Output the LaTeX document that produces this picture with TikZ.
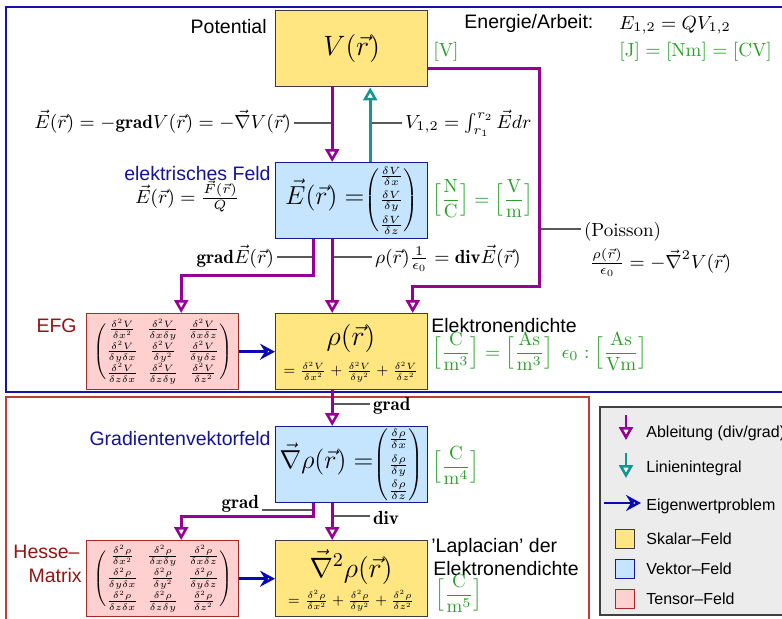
\documentclass[tikz,border=0pt]{standalone}
\usepackage{fix-cm}
\usepackage{amsmath}
\usepackage{fontspec}
\newfontfamily\hv{Liberation Sans}
\usetikzlibrary{arrows.meta}
\definecolor{cyel}{RGB}{255,230,128}
\definecolor{cyelb}{RGB}{60,60,60}
\definecolor{cblu}{RGB}{197,229,255}
\definecolor{cblub}{RGB}{25,25,150}
\definecolor{cpnk}{RGB}{255,208,208}
\definecolor{cpnkb}{RGB}{170,40,40}
\definecolor{cpur}{RGB}{150,0,150}
\definecolor{cteal}{RGB}{20,150,150}
\definecolor{carr}{RGB}{10,10,180}
\definecolor{cgrn}{RGB}{40,160,40}
\definecolor{cdblue}{RGB}{20,20,150}
\definecolor{cdred}{RGB}{150,20,20}
\definecolor{cframeb}{RGB}{20,20,170}
\definecolor{cframer}{RGB}{190,60,60}
\definecolor{clegbg}{RGB}{236,236,236}
\newcommand\myvcol[1]{\begin{pmatrix}\frac{\delta #1}{\delta x}\\[3pt]\frac{\delta #1}{\delta y}\\[3pt]\frac{\delta #1}{\delta z}\end{pmatrix}}
\newcommand\mytens[1]{\setlength\arraycolsep{2.2pt}\delimitershortfall=10pt\delimiterfactor=800
\begin{pmatrix}
\frac{\delta^2#1}{\delta x^2} & \frac{\delta^2#1}{\delta x\delta y} & \frac{\delta^2#1}{\delta x\delta z}\\[2pt]
\frac{\delta^2#1}{\delta y\delta x} & \frac{\delta^2#1}{\delta y^2} & \frac{\delta^2#1}{\delta y\delta z}\\[2pt]
\frac{\delta^2#1}{\delta z\delta x} & \frac{\delta^2#1}{\delta z\delta y} & \frac{\delta^2#1}{\delta z^2}
\end{pmatrix}}
\tikzset{
  boxb/.style={draw, line width=0.7pt, minimum width=76pt, minimum height=38pt, inner sep=0pt, anchor=north west},
  ybox/.style={boxb, fill=cyel, draw=cyelb},
  bbox/.style={boxb, fill=cblu, draw=cblub},
  pbox/.style={boxb, fill=cpnk, draw=cpnkb},
  der/.style={draw=cpur, line width=1.5pt, -{Triangle[length=6.5pt,width=7pt,fill=white,line width=1.3pt]}},
  intg/.style={draw=cteal, line width=1.5pt, -{Triangle[length=6.5pt,width=7pt,fill=white,line width=1.3pt]}},
  eig/.style={draw=carr, line width=1.5pt, -{Stealth[length=7.5pt,width=8pt,inset=2.5pt,fill=white,line width=1.3pt]}},
  lab/.style={draw=black!65, line width=0.6pt},
  sans/.style={font=\fontsize{9.75}{11.5}\selectfont\hv, inner sep=0pt},
  mlab/.style={font=\fontsize{9.5}{11}\selectfont, inner sep=0pt, outer xsep=1.5pt},
  unit/.style={font=\fontsize{9.5}{11}\selectfont, text=cgrn, inner sep=0pt},
  leg/.style={font=\fontsize{8}{9.5}\selectfont\hv, inner sep=0pt, anchor=base west},
  legsq/.style={draw, line width=0.6pt, minimum size=9.5pt, inner sep=0pt, anchor=north west}
}
\begin{document}
\begin{tikzpicture}[x=0.5pt,y=-0.5pt]
\useasboundingbox (0,0) rectangle (782,618);
\clip (0,0) rectangle (782,618);
\fill[white] (0,0) rectangle (782,618);
% frames
\draw[cframeb, line width=0.65pt] (6,7) rectangle (800,392);
\draw[cframer, line width=0.65pt] (6,397) rectangle (589,640);
% boxes
\node[ybox] (V) at (275,10) {\fontsize{14}{16}\selectfont$V(\vec r)$};
\node[bbox] (E) at (275,162) {{\fontsize{13}{15}\selectfont$\vec E(\vec r) =$}{\fontsize{7.5}{9}\selectfont$\myvcol{V}$}};
\node[pbox] (EFG) at (86,313) {\fontsize{6.6}{8}\selectfont$\mytens{V}$};
\node[ybox] (rho) at (275,313) {};
\node[bbox] (G) at (275,426) {{\fontsize{13}{15}\selectfont$\vec\nabla\rho(\vec r) =$}{\fontsize{7.5}{9}\selectfont$\myvcol{\rho}$}};
\node[pbox] (H) at (86,540) {\fontsize{6.6}{8}\selectfont$\mytens{\rho}$};
\node[ybox] (L) at (275,540) {};
\node[inner sep=0pt] (rhoT) at (351,338) {\fontsize{14}{16}\selectfont$\rho(\vec r)$};
\node[inner sep=0pt] (rhoF) at (351,372) {\fontsize{6.5}{8}\selectfont$=\frac{\delta^2V}{\delta x^2}+\frac{\delta^2V}{\delta y^2}+\frac{\delta^2V}{\delta z^2}$};
\node[inner sep=0pt] (LT) at (351,567) {\fontsize{14}{16}\selectfont$\vec\nabla^2\rho(\vec r)$};
\node[inner sep=0pt] (LF) at (351,601) {\fontsize{6.5}{8}\selectfont$=\frac{\delta^2\rho}{\delta x^2}+\frac{\delta^2\rho}{\delta y^2}+\frac{\delta^2\rho}{\delta z^2}$};
% texts
\node[sans, anchor=base east] (tPot) at (267,33) {Potential};
\node[sans, anchor=base west] (tEA) at (464,28) {Energie/Arbeit:};
\node[mlab, anchor=base west] (tE12) at (616,29) {$E_{1,2} = QV_{1,2}$};
\node[unit, anchor=base west] (tJ) at (619,56) {$[\mathrm J] = [\mathrm{Nm}] = [\mathrm{CV}]$};
\node[unit, anchor=base west] (tVu) at (433,56) {$[\mathrm V]$};
\node[mlab, anchor=base east] (lE) at (294,128) {$\vec E(\vec r) = -\mathbf{grad}V(\vec r) = -\vec\nabla V(\vec r)$};
\node[mlab, anchor=base west] (lV) at (402,128) {$V_{1,2} = \int_{r_1}^{r_2}\vec E dr$};
\node[sans, anchor=base east, text=cdblue] (tEF) at (271,180) {elektrisches Feld};
\node[mlab, anchor=base west] (tEF2) at (132,203) {$\vec E(\vec r) = \frac{\vec F(\vec r)}{Q}$};
\node[unit, anchor=base west] (tEu) at (432,205) {$\Big[\dfrac{\mathrm N}{\mathrm C}\Big] = \Big[\dfrac{\mathrm V}{\mathrm m}\Big]$};
\node[mlab, anchor=base east] (lgE) at (277,263) {$\mathbf{grad}\vec E(\vec r)$};
\node[mlab, anchor=base west] (ldiv) at (372,263) {$\rho(\vec r)\frac{1}{\epsilon_0} = \mathbf{div}\vec E(\vec r)$};
\node[mlab, anchor=base west] (lP) at (581,236) {(Poisson)};
\node[mlab, anchor=base west] (lP2) at (587,268) {$\frac{\rho(\vec r)}{\epsilon_0} = -\vec\nabla^2 V(\vec r)$};
\node[sans, anchor=base east, text=cdred] (tEFG) at (77,332) {EFG};
\node[sans, anchor=base west] (tED) at (431,332) {Elektronendichte};
\node[unit, anchor=base west] (tEDu) at (432,358) {$\Big[\dfrac{\mathrm C}{\mathrm m^3}\Big] = \Big[\dfrac{\mathrm{As}}{\mathrm m^3}\Big]\;\, \epsilon_0 : \Big[\dfrac{\mathrm{As}}{\mathrm{Vm}}\Big]$};
\node[mlab, anchor=base west] (lg1) at (370,410) {$\mathbf{grad}$};
\node[sans, anchor=base east, text=cdblue] (tGV) at (271,445) {Gradientenvektorfeld};
\node[unit, anchor=base west] (tGu) at (432,472) {$\Big[\dfrac{\mathrm C}{\mathrm m^4}\Big]$};
\node[mlab, anchor=base east] (lg2) at (262,508) {$\mathbf{grad}$};
\node[mlab, anchor=base west] (ld2) at (370,524) {$\mathbf{div}$};
\node[sans, anchor=base east, text=cdred] (tH1) at (80,558) {Hesse–};
\node[sans, anchor=base east, text=cdred] (tH2) at (82,582) {Matrix};
\node[sans, anchor=base west] (tL1) at (431,552) {’Laplacian’ der};
\node[sans, anchor=base west] (tL2) at (433,575) {Elektronendichte};
\node[unit, anchor=base west] (tLu) at (435,600) {$\Big[\dfrac{\mathrm C}{\mathrm m^5}\Big]$};
% label lines
\coordinate (c1) at (331.5,123);
\coordinate (c2) at (369.5,123);
\coordinate (c3) at (313,257);
\coordinate (c4) at (331.5,257);
\coordinate (c5) at (539,229);
\coordinate (c6) at (331.5,404);
\coordinate (c7) at (313,510);
\coordinate (c8) at (331.5,516);
\draw[lab] (lE.east |- c1) -- (c1);
\draw[lab] (c2) -- (lV.west |- c2);
\draw[lab] (lgE.east |- c3) -- (c3);
\draw[lab] (c4) -- (ldiv.west |- c4);
\draw[lab] (c5) -- (lP.west |- c5);
\draw[lab] (c6) -- (lg1.west |- c6);
\draw[lab] (lg2.east |- c7) -- (c7);
\draw[lab] (c8) -- (ld2.west |- c8);
% connectors
\draw[der] ([xshift=-9.75pt]V.south) -- ([xshift=-9.75pt]E.north);
\draw[intg] ([xshift=9.25pt]E.north) -- ([xshift=9.25pt]V.south);
\draw[der] ([yshift=-10pt]V.east) -| (539,286) -| ([xshift=30.5pt]rho.north);
\draw[der] ([xshift=-19pt]E.south) |- (180,275) -| ([xshift=9.25pt]EFG.north);
\draw[der] ([xshift=-9.75pt]E.south) -- ([xshift=-9.75pt]rho.north);
\draw[eig] (EFG.east) -- (rho.west);
\draw[der] ([xshift=-9.75pt]rho.south) -- ([xshift=-9.75pt]G.north);
\draw[der] ([xshift=-19pt]G.south) |- (180,516) -| ([xshift=9.25pt]H.north);
\draw[der] ([xshift=-9.75pt]G.south) -- ([xshift=-9.75pt]L.north);
\draw[eig] (H.east) -- (L.west);
% legend
\draw[fill=clegbg, draw=black!75, line width=0.55pt] (600,407) rectangle (800,615);
\coordinate (g1a) at (626,415);
\coordinate (g1b) at (626,440);
\coordinate (g2a) at (626,453);
\coordinate (g2b) at (626,478);
\coordinate (g3a) at (604,503);
\coordinate (g3b) at (641,503);
\draw[der, line width=1.1pt] (g1a) -- (g1b);
\draw[intg, line width=1.1pt] (g2a) -- (g2b);
\draw[eig, line width=1.1pt] (g3a) -- (g3b);
\node[legsq, fill=cyel, draw=cyelb] (sq1) at (615,529) {};
\node[legsq, fill=cblu, draw=cblub] (sq2) at (615,559) {};
\node[legsq, fill=cpnk, draw=cpnkb] (sq3) at (615,589) {};
\node[leg] (k1) at (646,437) {Ableitung (div/grad)};
\node[leg] (k2) at (646,472) {Linienintegral};
\node[leg] (k3) at (646,510) {Eigenwertproblem};
\node[leg] (k4) at (646,544) {Skalar–Feld};
\node[leg] (k5) at (646,574) {Vektor–Feld};
\node[leg] (k6) at (646,604) {Tensor–Feld};
\end{tikzpicture}
\end{document}
